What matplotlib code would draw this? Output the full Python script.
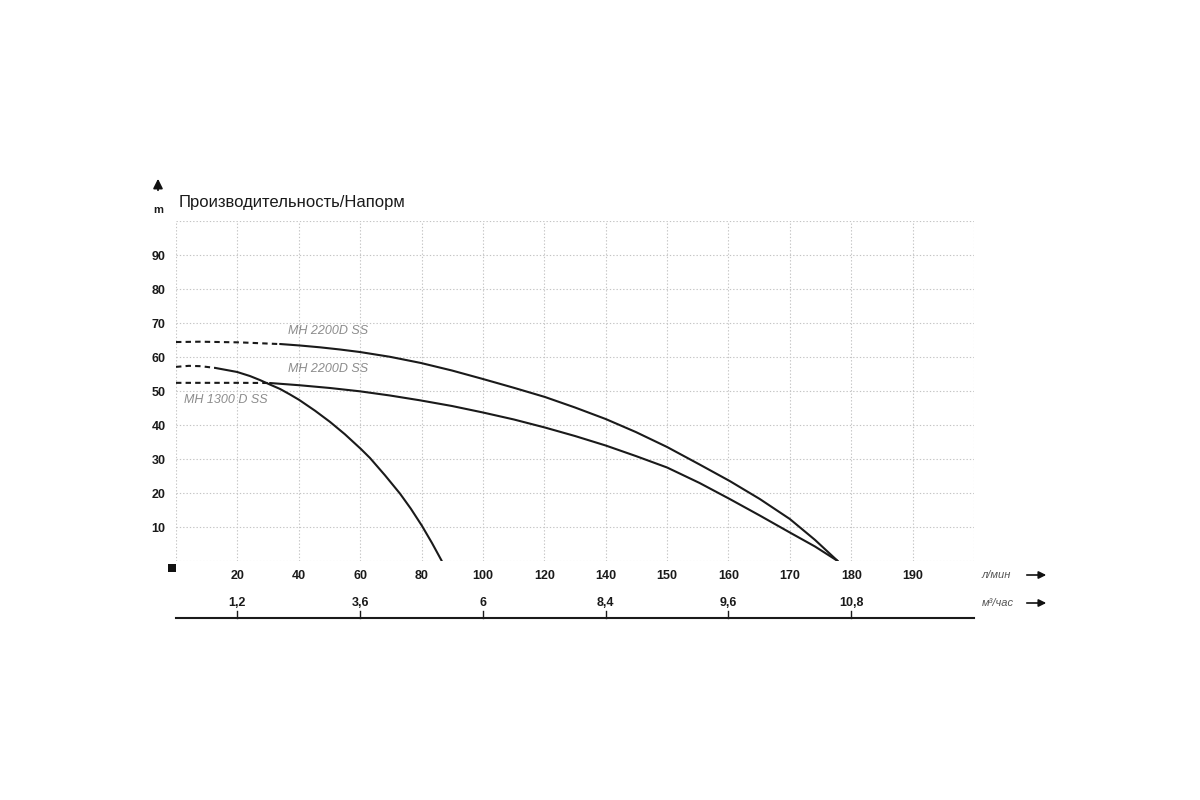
import numpy as np
import matplotlib
matplotlib.use("Agg")
import matplotlib.pyplot as plt
from matplotlib.patches import Rectangle

# ---------------- data ----------------
# flow axis (л/мин) tick values – the grid is evenly spaced but the labels are not
flow_ticks = [0, 20, 40, 60, 80, 100, 120, 140, 150, 160, 170, 180, 190, 200]
flow_labels = ["", "20", "40", "60", "80", "100", "120", "140", "150", "160",
               "170", "180", "190", ""]
# second scale (м³/час)
m3h_ticks = [1.2, 3.6, 6, 8.4, 9.6, 10.8]
m3h_labels = ["1,2", "3,6", "6", "8,4", "9,6", "10,8"]
head_ticks = [0, 10, 20, 30, 40, 50, 60, 70, 80, 90, 100]

# MH 2200D SS (upper curve)
a_dash_q = [0, 7.8, 20.8, 33.9]
a_dash_h = [64.4, 64.5, 64.3, 63.8]
a_q = [33.9, 40.4, 46.9, 53.4, 59.9, 69.7, 79.8, 89.9, 100.0, 110.1, 120.2,
       130.0, 140.0, 144.9, 150.0, 155.3, 160.2, 165.1, 170.0, 174.1, 177.8]
a_h = [63.82, 63.38, 62.85, 62.21, 61.47, 60.06, 58.24, 56.03, 53.53, 50.94,
       48.24, 45.15, 41.76, 37.94, 33.53, 28.38, 23.53, 18.24, 12.35, 6.2, 0]

# MH 2200D SS (lower curve)
b_dash_q = [0, 20.8, 30.6]
b_dash_h = [52.4, 52.4, 52.35]
b_q = [30.6, 40.4, 50.2, 59.9, 69.7, 79.5, 89.9, 100.0, 110.1, 120.2, 130.0,
       140.0, 144.9, 150.0, 155.3, 160.2, 165.1, 170.0, 174.1, 177.8]
b_h = [52.35, 51.68, 50.88, 49.91, 48.68, 47.26, 45.59, 43.68, 41.62, 39.26,
       36.76, 33.97, 30.88, 27.5, 22.94, 18.24, 13.38, 8.38, 4.26, 0]

# MH 1300 D SS
c_dash_q = [0, 4.2, 8, 12.7]
c_dash_h = [57.1, 57.4, 57.3, 56.8]
c_q = [12.7, 19.9, 24.1, 27.4, 30.6, 33.9, 37.1, 40.1, 45.3, 50.2, 55.0, 60.3,
       63.2, 68.1, 73.0, 76.5, 80.1, 83.4, 86.6]
c_h = [56.8, 55.6, 54.4, 53.2, 51.9, 50.6, 49.0, 47.4, 44.2, 40.9, 37.3, 32.9,
       30.3, 25.2, 19.8, 15.4, 10.4, 5.3, 0]

curve_names = ["MH 2200D SS", "MH 2200D SS", "MH 1300 D SS"]

# ---------------- figure ----------------
W, H = 1200, 800
fig = plt.figure(figsize=(12, 8), dpi=100, facecolor="white")

def fx(px):
    return px / W

def fy(py):
    return 1 - py / H

ax = fig.add_axes([fx(176), fy(561), (974 - 176) / W, 340 / H])

grid_pos = np.arange(len(flow_ticks), dtype=float)

def fwd(q):
    return np.interp(q, flow_ticks, grid_pos)

def inv(p):
    return np.interp(p, grid_pos, flow_ticks)

ax.set_xscale("function", functions=(fwd, inv))
ax.set_xlim(flow_ticks[0], flow_ticks[-1])
ax.set_ylim(0, 100)

for s in ax.spines.values():
    s.set_visible(False)

ax.set_xticks(flow_ticks)
ax.set_xticklabels(flow_labels)
ax.xaxis.set_minor_locator(matplotlib.ticker.NullLocator())
ax.set_yticks(head_ticks)
ax.set_yticklabels(["" if (v == 0 or v == 100) else str(v) for v in head_ticks])
ax.tick_params(axis="both", length=0)
ax.tick_params(axis="x", pad=6.5)
ax.tick_params(axis="y", pad=7.5)
for lab in ax.get_xticklabels() + ax.get_yticklabels():
    lab.set_fontfamily("Liberation Sans")
    lab.set_fontweight("bold")
    lab.set_fontsize(9)
    lab.set_color("#1a1a1a")

ax.grid(True, color="#c4c4c4", linewidth=0.8, linestyle=(0, (1.2, 1.8)))
ax.set_axisbelow(True)

line_kw = dict(color="#1a1a1a", linewidth=1.5, solid_capstyle="round",
               solid_joinstyle="round")
for dq, dh, q, h in [(a_dash_q, a_dash_h, a_q, a_h),
                     (b_dash_q, b_dash_h, b_q, b_h),
                     (c_dash_q, c_dash_h, c_q, c_h)]:
    ax.plot(dq, dh, linestyle=(0, (2.6, 2.0)), **line_kw)
    ax.plot(q, h, **line_kw)

label_kw = dict(color="#8c8c8c", fontstyle="italic", fontsize=9,
                family="Liberation Sans", va="center", ha="left")
ax.text(36.5, 67.6, curve_names[0], **label_kw)
ax.text(36.5, 56.5, curve_names[1], **label_kw)
ax.text(2.6, 47.4, curve_names[2], **label_kw)

# second scale: м³/час
trans = ax.get_xaxis_transform()
line_y = (561 - 618) / 340
tick_top = (561 - 611) / 340
lab_y = (561 - 603) / 340
ax.plot([flow_ticks[0], flow_ticks[-1]], [line_y, line_y], transform=trans,
        color="#1a1a1a", linewidth=1.5, clip_on=False)
for v, lab in zip(m3h_ticks, m3h_labels):
    q = v * 1000 / 60
    ax.plot([q, q], [line_y, tick_top], transform=trans, color="#1a1a1a",
            linewidth=1.0, clip_on=False)
    ax.text(q, lab_y, lab, transform=trans, ha="center", va="center",
            fontsize=9, fontweight="bold", family="Liberation Sans",
            color="#1a1a1a", clip_on=False)

# title and axis annotations
fig.text(fx(179), fy(202), "Производительность/Напорм", fontsize=12,
         family="Liberation Sans", color="#1a1a1a", ha="left", va="center")
fig.text(fx(158), fy(210), "m", fontsize=8, fontweight="bold",
         family="Liberation Sans", color="#1a1a1a", ha="center", va="center")
fig.patches.append(Rectangle((fx(168), fy(572)), 8 / W, 8 / H,
                             transform=fig.transFigure, facecolor="#111111",
                             edgecolor="none"))
ax.annotate("", xy=(fx(158), fy(176)), xytext=(fx(158), fy(193)),
            xycoords="figure fraction", textcoords="figure fraction",
            arrowprops=dict(arrowstyle="-|>", color="#111111", lw=1.3,
                            mutation_scale=14))

unit_kw = dict(fontsize=8, fontstyle="italic", family="Liberation Sans",
               color="#555555", ha="left", va="center")
fig.text(fx(982), fy(575), "л/мин", **unit_kw)
fig.text(fx(982), fy(603), "м³/час", **unit_kw)
for yy in (575, 603):
    ax.annotate("", xy=(fx(1049), fy(yy)), xytext=(fx(1024), fy(yy)),
                xycoords="figure fraction", textcoords="figure fraction",
                arrowprops=dict(arrowstyle="-|>", color="#111111", lw=1.2,
                                mutation_scale=11))

fig.savefig("out.png", dpi=100, facecolor="white")
